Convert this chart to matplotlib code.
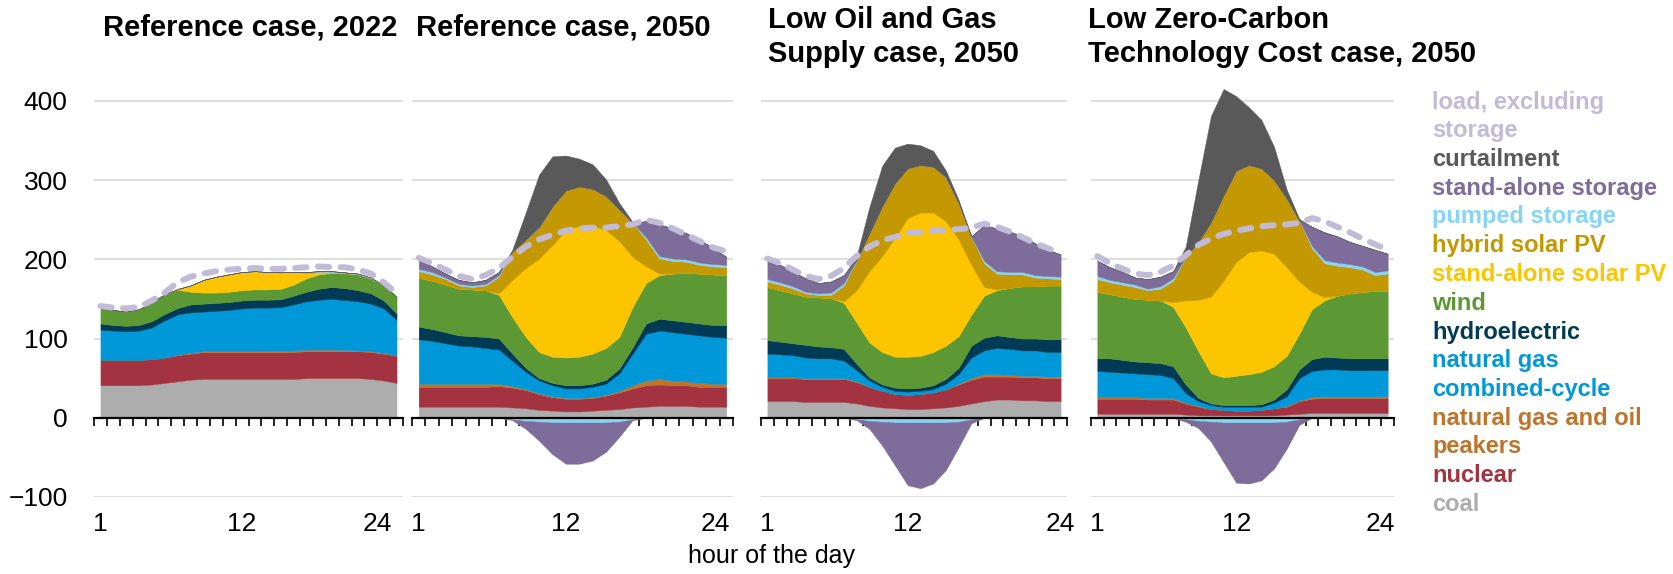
import numpy as np
import matplotlib
matplotlib.use('Agg')
import matplotlib.pyplot as plt
import matplotlib.transforms as mtrans

plt.rcParams['font.family'] = ['Liberation Sans', 'DejaVu Sans']

# hours of the day
hours = np.arange(1, 25)
hour_labels = [1, 12, 24]
y_ticks = [-100, 0, 100, 200, 300, 400]

# --- Reference case, 2022 ---
ref22_coal = [41, 41, 41, 41, 42, 44, 46, 48, 49, 49, 49, 49, 49, 49, 49, 49, 50, 50, 50, 50, 50, 49, 47, 44]
ref22_nuclear = [32, 32, 32, 32, 32, 32, 33, 33, 34, 34, 34, 34, 34, 34, 34, 34, 34, 34, 34, 34, 34, 34, 34, 34]
ref22_peakers = [0, 0, 0, 0, 0, 0, 0.5, 1, 1, 1, 1, 1, 1, 1, 1.5, 2, 2, 2, 2, 1.5, 1, 1, 1, 0.5]
ref22_ngcc = [38, 37, 36, 37, 40, 47, 51, 51, 50, 51, 52, 54, 55, 55, 55, 58, 61, 63, 64, 63, 62, 60, 56, 45]
ref22_hydro = [8, 7, 7, 7, 8, 8, 8, 10, 10, 10, 10, 10, 10, 10, 10, 11, 12, 14, 15, 15, 14, 13, 10, 8]
ref22_wind = [20, 19, 18, 20, 24, 25, 23, 16, 14, 13, 13, 13, 13, 13, 13, 14, 17, 18, 18, 19, 20, 19, 19, 21]
ref22_solar = [0, 0, 0, 0, 0, 0, 1, 8, 16, 20, 22, 23, 23, 22, 21, 16, 7, 3, 1, 0, 0, 0, 0, 0]
ref22_hybrid = [0] * 24
ref22_pumped = [0, 0, 0, 0, 0, 0, 0, 0, 0, 0, 0, 0, 0, 0, 0, 0, 1, 1, 1, 1, 1, 1, 0, 0]
ref22_storage = [0] * 24
ref22_curtail = [0] * 24
ref22_load = [141, 139, 138, 140, 148, 158, 171, 178, 182, 185, 187, 188, 189, 188, 188, 189, 190, 191, 190, 190, 187, 182, 171, 157]

# --- Reference case, 2050 ---
ref50_coal = [14, 14, 14, 14, 14, 14, 14, 13, 12, 10, 9, 8, 8, 9, 10, 11, 13, 14, 15, 15, 15, 14, 14, 14]
ref50_nuclear = [25, 25, 25, 25, 25, 25, 26, 25, 23, 20, 17, 16, 16, 16, 18, 21, 24, 27, 27, 26, 26, 25, 25, 25]
ref50_peakers = [4, 4, 4, 4, 4, 4, 3, 2, 1, 1, 1, 1, 1, 1, 1, 2, 4, 6, 7, 6, 5, 5, 4, 4]
ref50_ngcc = [56, 54, 51, 48, 47, 45, 43, 32, 22, 16, 14, 12, 12, 13, 14, 22, 40, 59, 61, 61, 60, 60, 59, 58]
ref50_hydro = [16, 15, 14, 13, 13, 14, 14, 9, 5, 3, 3, 4, 4, 4, 5, 6, 8, 13, 15, 15, 15, 15, 15, 16]
ref50_wind = [62, 61, 60, 59, 59, 59, 55, 46, 39, 33, 33, 35, 36, 38, 40, 40, 51, 51, 55, 59, 62, 63, 64, 63]
ref50_solar = [0, 0, 0, 0, 0, 0, 2, 47, 87, 118, 141, 161, 165, 161, 149, 121, 63, 21, 2, 0, 0, 0, 0, 0]
ref50_hybrid = [8, 8, 7, 4, 3, 6, 21, 36, 36, 40, 49, 50, 50, 47, 43, 40, 43, 34, 19, 16, 14, 11, 10, 10]
ref50_pumped = [3, 3, 2, 2, 2, 2, 2, -2, -4, -5, -6, -6, -6, -6, -6, -5, -2, 3, 3, 3, 3, 3, 3, 3]
ref50_storage = [11, 7, 5, 5, 4, 5, 4, -1, -10, -24, -40, -52, -52, -48, -37, -19, -1, 20, 40, 38, 33, 29, 20, 10]
ref50_curtail = [0, 0, 0, 0, 0, 0, 0, 2, 34, 66, 63, 44, 35, 31, 21, 8, 1, 0, 0, 0, 0, 0, 0, 0]
ref50_load = [202, 195, 187, 179, 175, 180, 189, 203, 216, 225, 231, 236, 239, 240, 240, 242, 244, 250, 246, 239, 231, 223, 215, 210]

# --- Low Oil and Gas Supply case, 2050 ---
lowog_coal = [21, 21, 21, 20, 20, 20, 20, 18, 15, 13, 12, 11, 11, 12, 13, 15, 18, 21, 23, 23, 22, 22, 21, 21]
lowog_nuclear = [29, 29, 29, 29, 29, 29, 29, 27, 24, 21, 18, 18, 19, 20, 23, 27, 30, 31, 29, 29, 29, 29, 29, 29]
lowog_peakers = [1, 1, 1, 1, 1, 1, 1, 1, 0, 0, 0, 0, 0, 0, 0, 1, 2, 3, 3, 2, 2, 2, 2, 2]
lowog_ngcc = [30, 29, 28, 26, 25, 25, 22, 14, 8, 5, 4, 4, 4, 4, 7, 12, 26, 30, 33, 33, 32, 32, 31, 31]
lowog_hydro = [17, 16, 15, 16, 15, 14, 15, 8, 4, 3, 4, 4, 4, 5, 6, 8, 15, 16, 16, 15, 15, 15, 16, 16]
lowog_wind = [67, 65, 63, 61, 62, 62, 58, 52, 44, 41, 39, 40, 40, 42, 42, 40, 39, 53, 57, 62, 66, 66, 68, 68]
lowog_solar = [0, 0, 0, 0, 0, 0, 2, 41, 90, 121, 150, 175, 181, 176, 157, 122, 63, 11, 1, 0, 0, 0, 0, 0]
lowog_hybrid = [7, 7, 6, 4, 3, 4, 20, 38, 48, 63, 69, 63, 60, 58, 56, 46, 36, 30, 20, 17, 15, 11, 9, 8]
lowog_pumped = [3, 3, 3, 2, 2, 3, 3, -2, -4, -5, -6, -6, -6, -6, -6, -5, -2, 3, 3, 3, 3, 3, 3, 3]
lowog_storage = [22, 22, 18, 17, 13, 14, 10, -1, -10, -30, -54, -79, -83, -77, -60, -32, -5, 45, 54, 51, 45, 40, 33, 28]
lowog_curtail = [0, 0, 0, 0, 0, 0, 0, 5, 33, 51, 45, 31, 25, 20, 8, 4, 0, 0, 0, 0, 0, 0, 0, 0]
lowog_load = [201, 195, 187, 179, 175, 179, 189, 204, 216, 224, 228, 233, 234, 236, 237, 238, 240, 245, 241, 235, 228, 220, 214, 208]

# --- Low Zero-Carbon Technology Cost case, 2050 ---
lowzc_coal = [5, 5, 5, 5, 5, 5, 5, 4, 3, 3, 3, 3, 3, 3, 3, 4, 5, 6, 6, 6, 6, 6, 6, 6]
lowzc_nuclear = [19, 19, 19, 19, 18, 18, 18, 14, 11, 8, 7, 6, 6, 7, 9, 10, 16, 18, 19, 19, 19, 19, 19, 19]
lowzc_peakers = [2, 2, 2, 2, 2, 2, 2, 1, 1, 0, 0, 0, 0, 0, 0, 1, 1, 2, 2, 2, 2, 2, 2, 2]
lowzc_ngcc = [33, 32, 31, 30, 30, 29, 25, 12, 6, 5, 4, 5, 5, 4, 7, 12, 28, 33, 34, 34, 33, 33, 33, 33]
lowzc_hydro = [16, 17, 16, 15, 15, 15, 15, 11, 4, 2, 2, 2, 2, 3, 4, 9, 11, 15, 16, 15, 15, 15, 15, 15]
lowzc_wind = [84, 81, 80, 79, 79, 79, 75, 72, 59, 38, 35, 37, 39, 41, 42, 42, 45, 63, 71, 78, 82, 84, 85, 85]
lowzc_solar = [0, 0, 0, 0, 0, 0, 6, 34, 65, 97, 122, 144, 154, 153, 142, 112, 66, 22, 4, 0, 0, 0, 0, 0]
lowzc_hybrid = [16, 15, 15, 15, 12, 15, 27, 55, 73, 94, 108, 115, 110, 104, 93, 87, 77, 55, 43, 38, 33, 28, 20, 22]
lowzc_pumped = [4, 3, 3, 3, 2, 3, 3, -2, -4, -5, -6, -6, -6, -6, -6, -5, -2, 3, 4, 4, 4, 4, 4, 4]
lowzc_storage = [19, 16, 13, 9, 12, 12, 9, -3, -9, -25, -50, -76, -77, -73, -58, -34, -7, 24, 35, 33, 28, 26, 28, 21]
lowzc_curtail = [0, 0, 0, 0, 0, 0, 0, 13, 78, 134, 134, 94, 73, 61, 42, 11, 2, 0, 0, 0, 0, 0, 0, 0]
lowzc_load = [204, 195, 188, 182, 180, 184, 192, 205, 218, 226, 232, 236, 239, 242, 243, 244, 246, 252, 248, 241, 234, 226, 219, 212]

panel_titles = ["Reference case, 2022", "Reference case, 2050",
                "Low Oil and Gas\nSupply case, 2050",
                "Low Zero-Carbon\nTechnology Cost case, 2050"]

legend_lines = ["load, excluding", "storage", "curtailment", "stand-alone storage",
                "pumped storage", "hybrid solar PV", "stand-alone solar PV", "wind",
                "hydroelectric", "natural gas", "combined-cycle", "natural gas and oil",
                "peakers", "nuclear", "coal"]

# colours
c_load = '#c2bbd7'
c_curtail = '#595959'
c_storage = '#7e6c9b'
c_pumped = '#86d5f7'
c_hybrid = '#c49800'
c_solar = '#fdc400'
c_wind = '#5c9833'
c_hydro = '#003a54'
c_ngcc = '#0098d8'
c_peakers = '#bf742c'
c_nuclear = '#a33340'
c_coal = '#adadad'

legend_colors = [c_load, c_load, c_curtail, c_storage, c_pumped, c_hybrid, c_solar,
                 c_wind, c_hydro, c_ngcc, c_ngcc, c_peakers, c_peakers, c_nuclear, c_coal]

panels = [
    (ref22_coal, ref22_nuclear, ref22_peakers, ref22_ngcc, ref22_hydro, ref22_wind,
     ref22_solar, ref22_hybrid, ref22_pumped, ref22_storage, ref22_curtail, ref22_load),
    (ref50_coal, ref50_nuclear, ref50_peakers, ref50_ngcc, ref50_hydro, ref50_wind,
     ref50_solar, ref50_hybrid, ref50_pumped, ref50_storage, ref50_curtail, ref50_load),
    (lowog_coal, lowog_nuclear, lowog_peakers, lowog_ngcc, lowog_hydro, lowog_wind,
     lowog_solar, lowog_hybrid, lowog_pumped, lowog_storage, lowog_curtail, lowog_load),
    (lowzc_coal, lowzc_nuclear, lowzc_peakers, lowzc_ngcc, lowzc_hydro, lowzc_wind,
     lowzc_solar, lowzc_hybrid, lowzc_pumped, lowzc_storage, lowzc_curtail, lowzc_load),
]

W, H = 1673, 574
fig = plt.figure(figsize=(W / 100, H / 100), dpi=100)

# axes boxes in pixels: left, right
boxes = [(94, 403), (412, 733), (761, 1067), (1091, 1394)]
ax_bottom_px, ax_top_px = 497, 85
title_pos = [(103, 27), (416, 27), (768, 37), (1088, 37)]
last_label_shift = [-14, -8, 0, -5]   # points, Excel nudges the "24" label

pos_colors = [c_coal, c_nuclear, c_peakers, c_ngcc, c_hydro, c_wind, c_solar,
              c_hybrid, c_pumped, c_storage, c_curtail]

for i, data in enumerate(panels):
    l, r = boxes[i]
    ax = fig.add_axes([l / W, 1 - ax_bottom_px / H, (r - l) / W, (ax_bottom_px - ax_top_px) / H])
    coal, nuc, peak, ngcc, hydro, wind, solar, hybrid, pumped, storage, curtail, load = [np.array(d, dtype=float) for d in data]

    pos = [coal, nuc, peak, ngcc, hydro, wind, solar, hybrid,
           np.clip(pumped, 0, None), np.clip(storage, 0, None), curtail]
    ax.stackplot(hours, *pos, colors=pos_colors, linewidth=0.3, edgecolor='face')
    ax.stackplot(hours, np.clip(pumped, None, 0), np.clip(storage, None, 0),
                 colors=[c_pumped, c_storage], linewidth=0.3, edgecolor='face')
    ax.plot(hours, load, color=c_load, lw=4.3, dashes=(1.9, 1.9), dash_capstyle='round')

    ax.set_xlim(0.5, 24.5)
    ax.set_ylim(-100, 420)
    ax.set_yticks(y_ticks)
    ax.grid(axis='y', color='#d9d9d9', lw=1.2)
    ax.set_axisbelow(True)
    for s in ['top', 'right', 'left']:
        ax.spines[s].set_visible(False)
    ax.spines['bottom'].set_position(('data', 0))
    ax.spines['bottom'].set_color('black')
    ax.spines['bottom'].set_linewidth(1.6)
    ax.spines['bottom'].set_zorder(5)

    ax.set_xticks(hour_labels)
    ax.set_xticklabels([str(h) for h in hour_labels])
    ax.set_xticks(np.arange(0.5, 25, 1), minor=True)
    ax.tick_params(axis='x', which='major', length=0, pad=68, labelsize=19)
    ax.tick_params(axis='x', which='minor', length=6, width=1.2, direction='out', color='black')
    lab = ax.get_xticklabels()[-1]
    lab.set_transform(lab.get_transform() + mtrans.ScaledTranslation(last_label_shift[i] / 72, 0, fig.dpi_scale_trans))
    if i == 0:
        ax.tick_params(axis='y', length=0, pad=19, labelsize=19)
    else:
        ax.tick_params(axis='y', length=0, labelleft=False)

    tx, ty = title_pos[i]
    fig.text(tx / W, 1 - ty / H, panel_titles[i], fontsize=21, fontweight='bold',
             ha='left', va='center', linespacing=1.25)

fig.text(771 / W, 1 - 556 / H, "hour of the day", fontsize=18, ha='center', va='center')

for k, (txt, col) in enumerate(zip(legend_lines, legend_colors)):
    fig.text(1432 / W, 1 - (102 + k * 28.75) / H, txt, color=col, fontsize=17,
             fontweight='bold', ha='left', va='center')

fig.savefig('out.png', dpi=100)
